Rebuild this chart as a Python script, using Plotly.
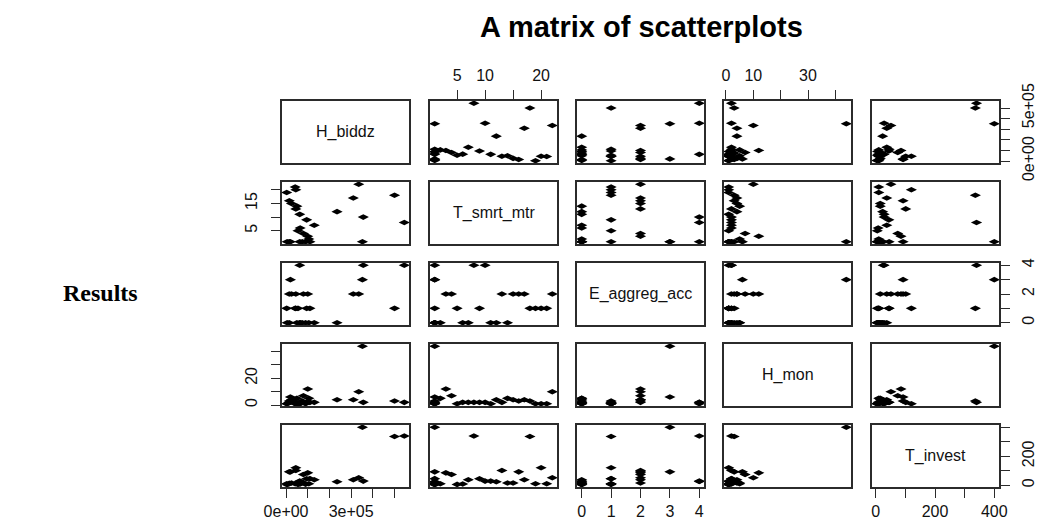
import plotly.graph_objects as go

# ---------------- data ----------------
H_biddz = [545000, 500000, 352000, 356000, 335000, 310000, 235000,
           105000, 100000, 80000, 55000, 65000, 130000, 95000, 63000,
           45000, 50000, 25000, 15000, 3000, 45000, 42000,
           5000, 15000, 20000, 63000, 75000, 90000, 110000]
T_smrt_mtr = [8, 18, 1, 10, 22, 17, 12,
              2, 3, 4, 5, 6, 7, 9, 11,
              13, 14, 15, 16, 19, 20, 21,
              1, 1, 1, 1, 1, 1, 1]
E_aggreg_acc = [4, 1, 3, 4, 2, 2, 0,
                0, 2, 2, 1, 0, 0, 1, 0,
                2, 0, 2, 2, 1, 1, 1,
                0, 0, 3, 4, 0, 0, 1]
H_mon = [2, 3, 44, 2, 10, 4, 4,
         5, 12, 7, 1, 2, 2, 2, 1,
         2, 5, 4, 3, 1, 1, 1,
         1, 2, 6, 1, 3, 1, 2]
T_invest = [340, 336, 400, 28, 51, 37, 23,
            10, 85, 74, 5, 8, 37, 44, 28,
            101, 15, 15, 92, 10, 120, 10,
            3, 12, 92, 25, 20, 6, 45]

var_names = ["H_biddz", "T_smrt_mtr", "E_aggreg_acc", "H_mon", "T_invest"]
var_data = [H_biddz, T_smrt_mtr, E_aggreg_acc, H_mon, T_invest]

tick_vals = [
    [0, 100000, 200000, 300000, 400000, 500000],
    [5, 10, 15, 20],
    [0, 1, 2, 3, 4],
    [0, 10, 20, 30, 40],
    [0, 100, 200, 300, 400],
]
# labels R would print on each outer side ('' where it skips a label)
labels_bottom = [["0e+00", "", "", "3e+05", "", ""], None,
                 ["0", "1", "2", "3", "4"], None, ["0", "", "200", "", "400"]]
labels_top = [None, ["5", "10", "", "20"], None, ["0", "10", "", "30", ""], None]
labels_left = [None, ["5", "", "15", ""], None, ["0", "", "20", "", ""], None]
labels_right = [["0e+00", "", "", "", "", "5e+05"], None,
                ["0", "", "2", "", "4"], None, ["0", "", "200", "", ""]]

title_text = "A matrix of scatterplots"
side_text = "Results"

# ---------------- layout geometry (pixels) ----------------
W, H = 1040, 522
col_left = [282, 430, 577, 724, 872]
row_top = [101, 182, 263, 344, 425]
pw, ph = 127, 62
n = len(var_names)


def rng(v):
    lo, hi = min(v), max(v)
    r = hi - lo
    return [lo - 0.04 * r, hi + 0.04 * r]


ranges = [rng(v) for v in var_data]

LINE = "#2b2b2b"
tick_font = dict(family="Liberation Sans, Arial, sans-serif", size=16, color="#111")

fig = go.Figure()
layout = dict(width=W, height=H,
              margin=dict(l=0, r=0, t=0, b=0, pad=0, autoexpand=False),
              paper_bgcolor="white", plot_bgcolor="white", showlegend=False)
annotations = []

for i in range(n):
    for j in range(n):
        k = i * n + j + 1
        xn = "x" if k == 1 else f"x{k}"
        yn = "y" if k == 1 else f"y{k}"
        xk = "xaxis" if k == 1 else f"xaxis{k}"
        yk = "yaxis" if k == 1 else f"yaxis{k}"
        x0 = col_left[j] / W
        x1 = (col_left[j] + pw) / W
        y1 = 1 - row_top[i] / H
        y0 = 1 - (row_top[i] + ph) / H

        xa = dict(domain=[x0, x1], anchor=yn, range=ranges[j], showgrid=False,
                  zeroline=False, showline=True, mirror=True, linecolor=LINE,
                  linewidth=1.6, ticks="", showticklabels=False, fixedrange=True,
                  automargin=False)
        ya = dict(domain=[y0, y1], anchor=xn, range=ranges[i], showgrid=False,
                  zeroline=False, showline=True, mirror=True, linecolor=LINE,
                  linewidth=1.6, ticks="", showticklabels=False, fixedrange=True,
                  automargin=False)

        tick_common = dict(ticks="outside", ticklen=9, tickwidth=1.4,
                           tickcolor=LINE, showticklabels=True, tickfont=tick_font)
        if i == n - 1 and labels_bottom[j] is not None:
            xa.update(tick_common, side="bottom", tickvals=tick_vals[j],
                      ticktext=labels_bottom[j], ticklabelstandoff=0)
        if i == 0 and labels_top[j] is not None:
            xa.update(tick_common, side="top", tickvals=tick_vals[j],
                      ticktext=labels_top[j], ticklabelstandoff=3)
        if j == 0 and labels_left[i] is not None:
            ya.update(tick_common, side="left", tickvals=tick_vals[i],
                      ticktext=labels_left[i], tickangle=-90, ticklabelstandoff=8)
        if j == n - 1 and labels_right[i] is not None:
            ya.update(tick_common, side="right", tickvals=tick_vals[i],
                      ticktext=labels_right[i], tickangle=-90, ticklabelstandoff=5)

        layout[xk] = xa
        layout[yk] = ya

        if i == j:
            # empty trace so that the diagonal panel (box) is drawn
            fig.add_trace(go.Scatter(x=[None], y=[None], mode="markers",
                                     xaxis=xn, yaxis=yn, hoverinfo="skip"))
            annotations.append(dict(
                x=(x0 + x1) / 2, y=(y0 + y1) / 2, xref="paper", yref="paper",
                text=var_names[i], showarrow=False, xanchor="center", yanchor="middle",
                font=dict(family="Liberation Sans, Arial, sans-serif", size=16, color="#111")))
        else:
            fig.add_trace(go.Scatter(
                x=var_data[j], y=var_data[i], mode="markers", xaxis=xn, yaxis=yn,
                cliponaxis=False, hoverinfo="skip",
                marker=dict(symbol="diamond-wide", size=8, color="black",
                            line=dict(width=0))))

annotations.append(dict(x=641 / W, y=1 - 27 / H, xref="paper", yref="paper",
                        text=f"<b>{title_text}</b>", showarrow=False,
                        xanchor="center", yanchor="middle",
                        font=dict(family="Liberation Sans, Arial, sans-serif",
                                  size=29, color="black")))
annotations.append(dict(x=100 / W, y=1 - 293 / H, xref="paper", yref="paper",
                        text=f"<b>{side_text}</b>", showarrow=False,
                        xanchor="center", yanchor="middle",
                        font=dict(family="Liberation Serif, Times New Roman, serif",
                                  size=24, color="black")))
layout["annotations"] = annotations
fig.update_layout(**layout)
fig.write_html("out.html")
